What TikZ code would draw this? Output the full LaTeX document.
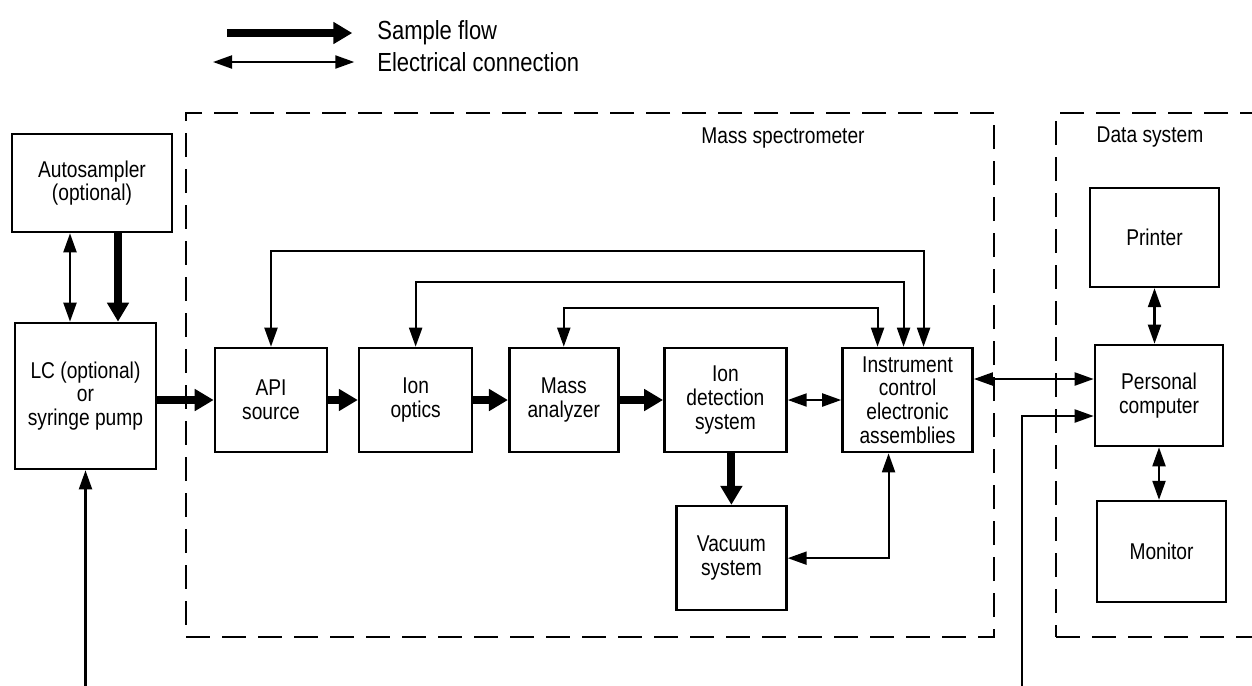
\documentclass[tikz,border=0pt]{standalone}
\usepackage{fontspec}
\setmainfont[FakeStretch=0.84]{Liberation Sans}
\usepackage{tikz}
\usetikzlibrary{positioning,arrows.meta}

\begin{document}
\begin{tikzpicture}[ blocknode/.style={rectangle, draw=black, line width=1.5pt, align=center, minimum width=2.24cm, minimum height=2.08cm, inner sep=2pt}, groupnode/.style={rectangle, draw=black, line width=1.5pt, dash pattern=on 0.48cm off 0.24cm}, keynode/.style={anchor=west, inner xsep=0pt, font=\fontsize{14.9}{16}\selectfont}, flowline/.style={line width=4.5pt, -{Triangle[length=0.38cm, width=0.42cm]}}, wireline/.style={line width=1.2pt, {Triangle[length=0.38cm, width=0.26cm]}-{Triangle[length=0.38cm, width=0.26cm]}}, feedline/.style={line width=1.2pt, -{Triangle[length=0.38cm, width=0.26cm]}}]

\tikzstyle{every node}=[font=\fontsize{13}{13.5}\selectfont]

\useasboundingbox (0,0) rectangle (25.04,-13.7);

%Nodes
\node[keynode]      (flowkey)   at (7.54,-0.66) {Sample flow};
\node[keynode]      (wirekey)   at (7.54,-1.24) {Electrical connection};
\node[groupnode, minimum width=16.16cm, minimum height=10.48cm]      (ms) at (11.8,-7.5) {};
\node[groupnode, minimum width=4.4cm, minimum height=10.48cm]      (ds) at (23.32,-7.5) {};
\node      (mslabel) at (15.66,-2.76) {Mass spectrometer};
\node      (dslabel) at (23.0,-2.74) {Data system};
\node[blocknode, minimum width=3.2cm, minimum height=1.96cm]      (autosampler) at (1.84,-3.66) {Autosampler\\(optional)};
\node[blocknode, minimum width=2.82cm, minimum height=2.92cm]      (lc) at (1.71,-7.92) {LC (optional)\\or\\syringe pump};
\node[blocknode]      (api) at (5.42,-8.0) {API\\source};
\node[blocknode, minimum width=2.26cm]      (optics) [right=0.59cm of api] {Ion\\optics};
\node[blocknode, minimum width=2.18cm]      (analyzer) [right=0.69cm of optics] {Mass\\analyzer};
\node[blocknode, minimum width=2.44cm]      (detection) [right=0.87cm of analyzer] {Ion\\detection\\system};
\node[blocknode, minimum width=2.6cm]      (control) [right=1.07cm of detection] {Instrument\\control\\electronic\\assemblies};
\node[blocknode, minimum width=2.2cm]      (vacuum) [below=1.03cm of detection, xshift=0.12cm] {Vacuum\\system};
\node[blocknode, minimum width=2.56cm, minimum height=2.02cm]      (pc) at (23.18,-7.91) {Personal\\computer};
\node[blocknode, minimum width=2.58cm, minimum height=1.98cm]      (printer) [above=1.11cm of pc, xshift=-0.09cm] {Printer};
\node[blocknode, minimum width=2.58cm, minimum height=2.02cm]      (monitor) [below=1.05cm of pc, xshift=0.05cm] {Monitor};
\node[inner sep=0, minimum size=0, left=3.0cm of flowkey] (flowstart) {}; % invisible node
\node[inner sep=0, minimum size=0, left=0.48cm of flowkey] (flowend) {}; % invisible node
\node[inner sep=0, minimum size=0, left=3.28cm of wirekey] (wirestart) {}; % invisible node
\node[inner sep=0, minimum size=0, left=0.44cm of wirekey] (wireend) {}; % invisible node
\node[inner sep=0, minimum size=0] (lcfeed) at (lc.south |- 0,-13.75) {}; % invisible node
\node[inner sep=0, minimum size=0] (pcfeed) at (20.44,-13.75) {}; % invisible node

%Lines
\draw[flowline] (flowstart) -- (flowend);
\draw[wireline] (wirestart) -- (wireend);
\draw[wireline] ([xshift=-0.44cm]autosampler.south) -- ([xshift=-0.44cm]autosampler.south |- lc.north);
\draw[flowline] ([xshift=0.52cm]autosampler.south) -- ([xshift=0.52cm]autosampler.south |- lc.north);
\draw[feedline] (lcfeed) -- (lc.south);
\draw[flowline] (api.west -| lc.east) -- (api.west);
\draw[flowline] (api.east) -- (optics.west);
\draw[flowline] (optics.east) -- (analyzer.west);
\draw[flowline] (analyzer.east) -- (detection.west);
\draw[flowline] (detection.south -| vacuum.north) -- (vacuum.north);
\draw[wireline] (detection.east) -- (control.west);
\draw[wireline] (api.north) -- ++(0,1.92) -| ([xshift=0.32cm]control.north);
\draw[wireline] (optics.north) -- ++(0,1.3) -| ([xshift=-0.08cm]control.north);
\draw[wireline] (analyzer.north) -- ++(0,0.78) -| ([xshift=-0.6cm]control.north);
\draw[wireline] ([xshift=-0.38cm]control.south) |- (vacuum.east);
\draw[wireline] ([yshift=0.42cm]control.east) -- ([yshift=0.42cm]control.east -| pc.west);
\draw[feedline] (pcfeed) |- ([yshift=-0.41cm]pc.west);
\draw[wireline] (printer.south) -- (printer.south |- pc.north);
\draw[wireline] (pc.south) -- (pc.south |- monitor.north);

\end{tikzpicture}
\end{document}
